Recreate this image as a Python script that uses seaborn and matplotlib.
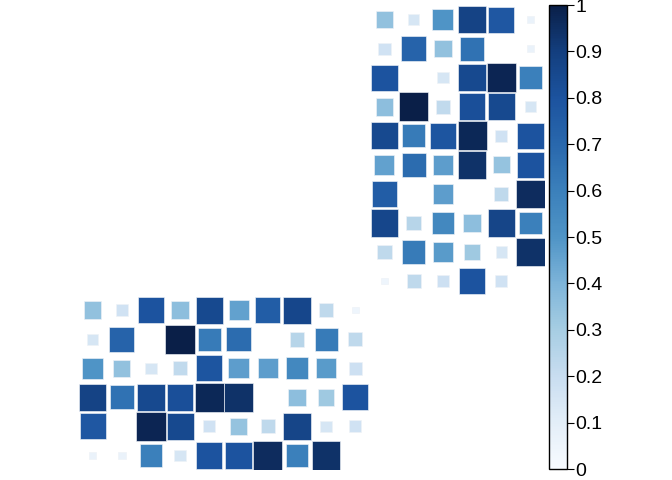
import numpy as np
import pandas as pd
import matplotlib
matplotlib.use("Agg")
import matplotlib.pyplot as plt
import seaborn as sns
from matplotlib.cm import ScalarMappable
from matplotlib.colors import Normalize
from matplotlib.ticker import FormatStrFormatter

# 10 variables x 6 variables block (values 0..1), mirrored into the lower-left block
r0 = [0.35, 0.15, 0.50, 0.88, 0.78, 0.07]
r1 = [0.17, 0.72, 0.35, 0.66, 0.00, 0.07]
r2 = [0.80, 0.00, 0.15, 0.85, 0.98, 0.60]
r3 = [0.36, 1.00, 0.22, 0.82, 0.85, 0.15]
r4 = [0.85, 0.62, 0.79, 0.97, 0.17, 0.80]
r5 = [0.46, 0.68, 0.47, 0.94, 0.34, 0.80]
r6 = [0.75, 0.00, 0.47, 0.00, 0.23, 0.96]
r7 = [0.86, 0.25, 0.56, 0.36, 0.87, 0.60]
r8 = [0.23, 0.62, 0.48, 0.32, 0.15, 0.94]
r9 = [0.05, 0.23, 0.18, 0.80, 0.17, 0.00]
rows = [r0, r1, r2, r3, r4, r5, r6, r7, r8, r9]

n_a = len(rows)      # 10
n_b = len(r0)        # 6
n = n_a + n_b        # 16

recs = []
for i, r in enumerate(rows):
    for j, v in enumerate(r):
        # upper-right block
        recs.append({"x": n_a + j, "y": i, "value": v})
        # lower-left mirror
        recs.append({"x": i, "y": n_a + j, "value": v})
df = pd.DataFrame(recs)

# blues ramp sampled from the reference colour bar
blues = sns.blend_palette(["#f7fbff", "#e3eef8", "#c8ddf0", "#a6cde3", "#7db4d9",
                           "#4f94c6", "#3b80bb", "#2968ad", "#1c539f", "#133f7f",
                           "#0a1f48"], as_cmap=True)

fig = plt.figure(figsize=(6.72, 4.8), dpi=100)
plt.rcParams['font.family'] = ['Liberation Sans', 'DejaVu Sans']

ax = fig.add_axes([78 / 672, 10 / 480, 467 / 672, 465 / 480])
cell_pt = 29.4 * 0.72
sns.scatterplot(data=df, x="x", y="y", hue="value", size="value",
                palette=blues, hue_norm=(0, 1),
                sizes=(0, cell_pt ** 2), size_norm=(0, 1),
                marker="s", edgecolor="#eef2f7", linewidth=0.45,
                legend=False, ax=ax)
ax.set_xlim(-0.5, n - 0.5)
ax.set_ylim(n - 0.5, -0.5)
ax.set_axis_off()

# colorbar
cax = fig.add_axes([549 / 672, 11 / 480, 18 / 672, 464 / 480])
sm = ScalarMappable(norm=Normalize(0, 1), cmap=blues)
cb = fig.colorbar(sm, cax=cax, ticks=np.arange(0, 1.01, 0.1))
cb.ax.yaxis.set_major_formatter(FormatStrFormatter('%g'))
cb.ax.tick_params(labelsize=14, length=5, width=0.8, pad=1, colors='black')
cb.outline.set_linewidth(1.0)
cb.outline.set_edgecolor('black')

fig.savefig("out.png", dpi=100)
